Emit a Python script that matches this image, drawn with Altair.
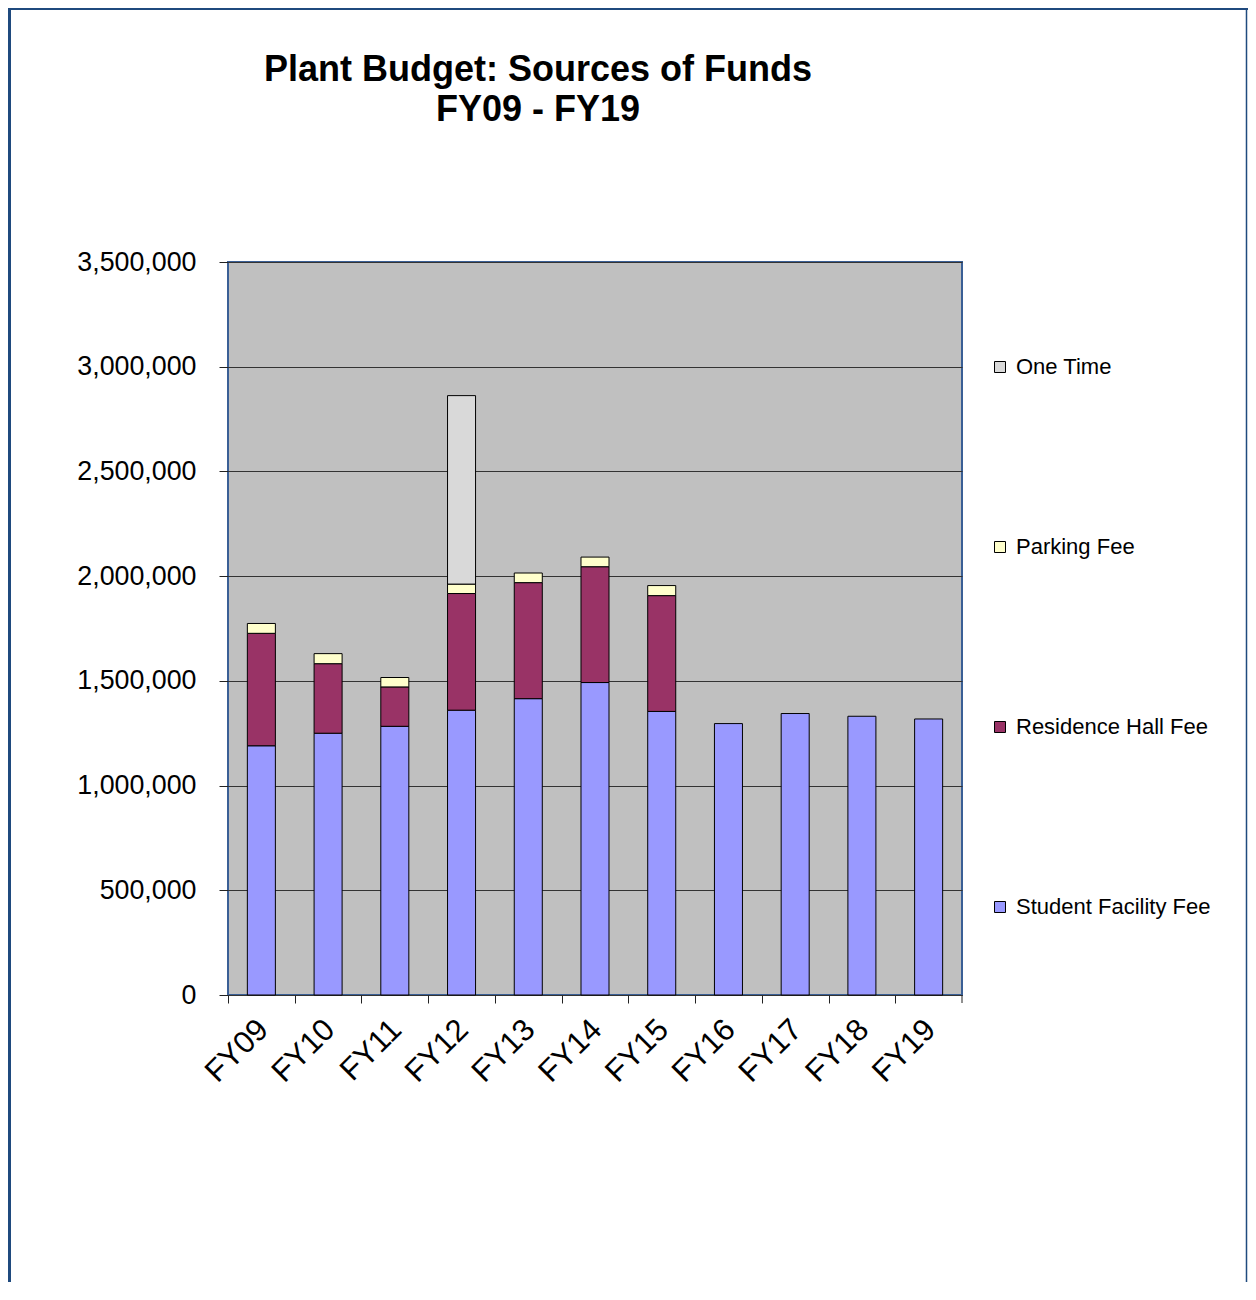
import altair as alt
import pandas as pd

years = ["FY09", "FY10", "FY11", "FY12", "FY13", "FY14", "FY15", "FY16", "FY17", "FY18", "FY19"]
student_facility_fee = [1190000, 1250000, 1283000, 1360000, 1415000, 1492000, 1354000, 1296000, 1344000, 1331000, 1318000]
residence_hall_fee = [537000, 332000, 188000, 557000, 554000, 553000, 553000, 0, 0, 0, 0]
parking_fee = [47000, 48000, 45000, 45000, 46000, 46000, 48000, 0, 0, 0, 0]
one_time = [0, 0, 0, 900000, 0, 0, 0, 0, 0, 0, 0]

series_names = ["Student Facility Fee", "Residence Hall Fee", "Parking Fee", "One Time"]
series_values = [student_facility_fee, residence_hall_fee, parking_fee, one_time]
legend_order = ["One Time", "Parking Fee", "Residence Hall Fee", "Student Facility Fee"]
legend_colors = ["#D9D9D9", "#FFFFCC", "#993366", "#9999FF"]
y_ticks = [0, 500000, 1000000, 1500000, 2000000, 2500000, 3000000, 3500000]

rows = []
for rank, (name, vals) in enumerate(zip(series_names, series_values)):
    for yr, v in zip(years, vals):
        if v > 0:
            rows.append({"year": yr, "series": name, "value": v, "rank": rank})
df = pd.DataFrame(rows)

FONT = "Liberation Sans"
FRAME = "#1F4A7E"
W, H = 734, 733
HALF_STEP = W / len(years) / 2

bars = alt.Chart(df).mark_bar(stroke="black", strokeWidth=1).encode(
    x=alt.X("year:N", sort=years,
            scale=alt.Scale(paddingInner=0.58, paddingOuter=0.29),
            axis=alt.Axis(title=None, labelAngle=-45, labelAlign="right", labelBaseline="top",
                          labelFontSize=31, labelFont=FONT, labelColor="black",
                          ticks=True, tickSize=8, tickColor="#222222",
                          tickOffset=-HALF_STEP, labelOffset=HALF_STEP - 9,
                          labelPadding=11, domain=False, grid=False)),
    y=alt.Y("value:Q", stack="zero",
            scale=alt.Scale(domain=[0, 3500000], nice=False),
            axis=alt.Axis(title=None, values=y_ticks, format=",d",
                          labelFontSize=26.8, labelFont=FONT, labelColor="black",
                          tickSize=9, tickColor="#222222", labelPadding=23,
                          domain=False, grid=True, gridColor="#333333", gridWidth=1)),
    color=alt.Color("series:N",
                    scale=alt.Scale(domain=legend_order, range=legend_colors),
                    legend=alt.Legend(title=None, orient="none", legendX=761, legendY=94,
                                      symbolType="square", symbolSize=121,
                                      symbolStrokeColor="black", symbolStrokeWidth=1,
                                      labelFontSize=22, labelFont=FONT, labelColor="black",
                                      labelLimit=400, labelOffset=5, rowPadding=158, padding=0)),
    order=alt.Order("rank:Q", sort="ascending"),
)

one = pd.DataFrame({"k": [0]})
end_tick = alt.Chart(one).mark_rule(color="#222222", strokeWidth=1).encode(
    x=alt.value(W), y=alt.value(H), y2=alt.value(H + 8))
frame_left = alt.Chart(one).mark_rule(color=FRAME, strokeWidth=4).encode(
    x=alt.value(-219), y=alt.value(-254), y2=alt.value(1030))
frame_top = alt.Chart(one).mark_rule(color=FRAME, strokeWidth=2).encode(
    x=alt.value(-221), x2=alt.value(1020), y=alt.value(-253))
frame_right = alt.Chart(one).mark_rule(color=FRAME, strokeWidth=1.5).encode(
    x=alt.value(1018.5), y=alt.value(-254), y2=alt.value(1030))

chart = alt.layer(bars, end_tick, frame_left, frame_top, frame_right).properties(
    width=W, height=H,
    autosize=alt.AutoSizeParams(type="none"),
    padding={"left": 220, "top": 254, "right": 286, "bottom": 287},
    title=alt.TitleParams(["Plant Budget: Sources of Funds", "FY09 - FY19"],
                          fontSize=36, font=FONT, fontWeight="bold", color="black",
                          lineHeight=40, anchor="middle", frame="group", dx=-57, offset=-122.5),
).configure(background="white").configure_view(fill="#C0C0C0", stroke="#3A5F95", strokeWidth=2)

chart.save("out.html", embed_options={"renderer": "svg", "actions": False})
